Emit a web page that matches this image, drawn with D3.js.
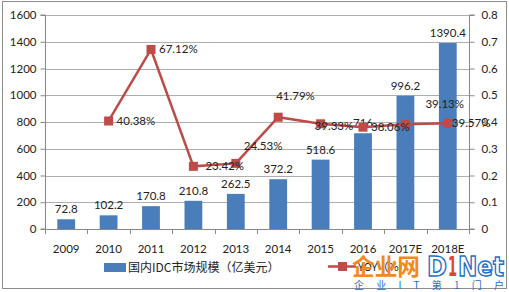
<!DOCTYPE html>
<html><head><meta charset="utf-8">
<script src="https://cdn.jsdelivr.net/npm/d3@7"></script>
<style>
html,body{margin:0;padding:0;background:#fff;}
svg{display:block;font-family:Lato,"Noto Sans","Noto Sans CJK SC",sans-serif;}
</style></head><body>
<svg id="c" width="509" height="292"></svg>
<script>
const categories = ["2009","2010","2011","2012","2013","2014","2015","2016","2017E","2018E"];
const marketSize = [72.8,102.2,170.8,210.8,262.5,372.2,518.6,716,996.2,1390.4];
const marketLabels = ["72.8","102.2","170.8","210.8","262.5","372.2","518.6","716","996.2","1390.4"];
const yoy = [null,0.4038,0.6712,0.2342,0.2453,0.4179,0.3933,0.3806,0.3913,0.3957];
const yoyLabels = [null,"40.38%","67.12%","23.42%","24.53%","41.79%","39.33%","38.06%","39.13%","39.57%"];
const leftTicks = [0,200,400,600,800,1000,1200,1400,1600];
const rightTicks = [0,0.1,0.2,0.3,0.4,0.5,0.6,0.7,0.8];
const seriesNames = ["国内IDC市场规模（亿美元）","YOY（%）"];

// label offsets (layout, not data)
const yoyLabelOffset = [null,[8,4],[8,4],[12,4],[8,-13],[-2,-17],[-6,6],[8,4],[20,-16],[4,4]];

const svg = d3.select("#c");
const L = 45, R = 469, T = 15, B = 229;
const blue = "#4A7EBB", red = "#BE4B48";

svg.append("rect").attr("x",2.5).attr("y",1.5).attr("width",504).attr("height",287)
  .attr("fill","#fff").attr("stroke","#8c8c8c").attr("stroke-width",1);

const x = d3.scaleBand().domain(categories).range([L,R]).paddingInner(0.58).paddingOuter(0.29);
const yL = d3.scaleLinear().domain([0,1600]).range([B,T]);
const yR = d3.scaleLinear().domain([0,0.8]).range([B,T]);

// grid
svg.append("g").selectAll("line").data(leftTicks.slice(1)).join("line")
  .attr("x1",L).attr("x2",R).attr("y1",d=>Math.round(yL(d))+0.5).attr("y2",d=>Math.round(yL(d))+0.5)
  .attr("stroke","#999").attr("stroke-width",0.8);

// axes
const axL = svg.append("g").attr("transform",`translate(${L+0.5},0)`)
  .call(d3.axisLeft(yL).tickValues(leftTicks).tickSize(5).tickPadding(4).tickFormat(d3.format("d")));
const axR = svg.append("g").attr("transform",`translate(${R+0.5},0)`)
  .call(d3.axisRight(yR).tickValues(rightTicks).tickSize(5).tickPadding(7).tickFormat(d=>d===0?"0":d3.format(".1f")(d)));
const axB = svg.append("g").attr("transform",`translate(0,${B+0.5})`)
  .call(d3.axisBottom(x).tickSize(0).tickPadding(15));
[axL,axR,axB].forEach(a=>{
  a.selectAll(".domain").attr("stroke","#888");
  a.selectAll(".tick line").attr("stroke","#888");
  a.selectAll("text").attr("font-size",11.5).attr("fill","#222").attr("font-family","Lato,'Noto Sans',sans-serif");
});
axL.select(".domain").attr("d",`M-5,${T}H0V${B}H-5`);
axR.select(".domain").attr("d",`M5,${T}H0V${B}H5`);
axB.select(".domain").attr("d",`M${L},0H${R}`);
// category boundary ticks
const step = x.step();
svg.append("g").selectAll("line").data(d3.range(categories.length+1)).join("line")
  .attr("x1",i=>Math.round(L+i*step)+0.5).attr("x2",i=>Math.round(L+i*step)+0.5)
  .attr("y1",B).attr("y2",B+5).attr("stroke","#888");

// bars
svg.append("g").selectAll("rect").data(marketSize).join("rect")
  .attr("x",(d,i)=>x(categories[i])).attr("width",x.bandwidth())
  .attr("y",d=>yL(d)).attr("height",d=>B-yL(d)).attr("fill",blue);

// bar labels
svg.append("g").selectAll("text").data(marketSize).join("text")
  .attr("x",(d,i)=>x(categories[i])+x.bandwidth()/2).attr("y",d=>yL(d)-6)
  .attr("text-anchor","middle").attr("font-size",11.5).attr("fill","#222")
  .text((d,i)=>marketLabels[i]);

// line
const pts = yoy.map((v,i)=>({v,i})).filter(p=>p.v!==null);
const cx = i=>x(categories[i])+x.bandwidth()/2;
svg.append("path").datum(pts)
  .attr("d",d3.line().x(p=>cx(p.i)).y(p=>yR(p.v)))
  .attr("fill","none").attr("stroke",red).attr("stroke-width",2.5);
svg.append("g").selectAll("rect").data(pts).join("rect")
  .attr("x",p=>cx(p.i)-4.5).attr("y",p=>yR(p.v)-4.5).attr("width",9).attr("height",9)
  .attr("fill",red);
svg.append("g").selectAll("text").data(pts).join("text")
  .attr("x",p=>cx(p.i)+yoyLabelOffset[p.i][0]).attr("y",p=>yR(p.v)+yoyLabelOffset[p.i][1])
  .attr("font-size",11.5).attr("fill","#222")
  .text(p=>yoyLabels[p.i]);

// legend
const lg = svg.append("g");
lg.append("rect").attr("x",104).attr("y",263).attr("width",22).attr("height",9).attr("fill",blue);
lg.append("text").attr("x",128).attr("y",272).attr("font-size",12).attr("fill","#222")
  .attr("font-family","'Noto Sans CJK SC',sans-serif").text(seriesNames[0]);
lg.append("line").attr("x1",328).attr("x2",356).attr("y1",266.5).attr("y2",266.5).attr("stroke",red).attr("stroke-width",2.5);
lg.append("rect").attr("x",338).attr("y",262).attr("width",9).attr("height",9).attr("fill",red);
lg.append("text").attr("x",358).attr("y",271).attr("font-size",11).attr("fill","#222")
  .attr("font-family","'Noto Sans CJK SC',sans-serif").text(seriesNames[1]);

// D1Net watermark logo
const wm = svg.append("g");
wm.append("text").attr("x",352).attr("y",275).attr("font-size",23).attr("font-weight","bold")
  .attr("fill","#F08A1E").attr("font-family","'Noto Sans CJK SC',sans-serif")
  .attr("textLength",68).attr("lengthAdjust","spacingAndGlyphs").text("企业网");
wm.append("text").attr("x",427).attr("y",276).attr("font-size",27).attr("font-weight","bold")
  .attr("fill","#fff").attr("stroke","#1F6FC5").attr("stroke-width",1.5)
  .attr("font-family","'DejaVu Sans',sans-serif")
  .attr("textLength",20).attr("lengthAdjust","spacingAndGlyphs").text("D");
wm.append("text").attr("x",448).attr("y",276).attr("font-size",27).attr("font-weight","bold")
  .attr("fill","#E2432A").attr("font-family","'DejaVu Sans',sans-serif")
  .attr("textLength",9).attr("lengthAdjust","spacingAndGlyphs").text("1");
wm.append("text").attr("x",458).attr("y",276).attr("font-size",27).attr("font-weight","bold")
  .attr("fill","#fff").attr("stroke","#1F6FC5").attr("stroke-width",1.5)
  .attr("font-family","'DejaVu Sans',sans-serif")
  .attr("textLength",46).attr("lengthAdjust","spacingAndGlyphs").text("Net");
wm.append("text").attr("x",354).attr("y",289).attr("font-size",10).attr("fill","#1F6FC5")
  .attr("font-family","'Noto Sans CJK SC',sans-serif")
  .attr("textLength",150).attr("lengthAdjust","spacing").text("企业IT第1门户");
</script>
</body></html>
